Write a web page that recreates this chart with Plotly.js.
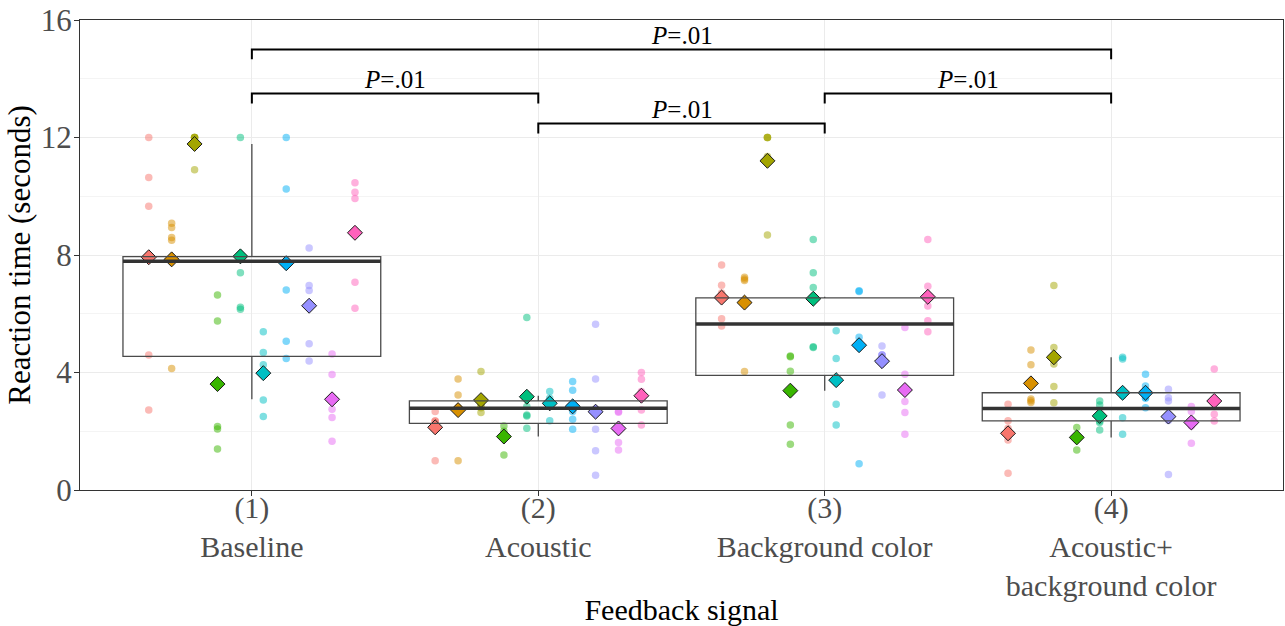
<!DOCTYPE html>
<html>
<head>
<meta charset="utf-8">
<script src="https://cdn.plot.ly/plotly-3.0.1.min.js"></script>
<style>html,body{margin:0;padding:0;background:#fff;}</style>
</head>
<body>
<div id="chart" style="width:1285px;height:626px;"></div>
<script>
// ---- DATA (reaction time in seconds, 5 trials per participant, 10 participants) ----
const conditions = [1, 2, 3, 4];
const conditionLabels = ["(1)<br>Baseline", "(2)<br>Acoustic", "(3)<br>Background color", "(4)<br>Acoustic+<br>background color"];
const participantColors = ["#F8766D", "#D89000", "#A3A500", "#39B600", "#00BF7D", "#00BFC4", "#00B0F6", "#9590FF", "#E76BF3", "#FF62BC"];

const rtBaseline = [
  [12.0, 10.64, 9.66, 4.6, 2.72],
  [9.08, 8.94, 8.6, 8.5, 4.14],
  [12.0, 12.0, 12.0, 12.0, 10.9],
  [6.64, 5.75, 2.16, 2.08, 1.4],
  [12.0, 8.0, 7.4, 6.22, 6.15],
  [5.39, 4.68, 4.26, 3.06, 2.5],
  [12.0, 10.25, 6.81, 5.06, 4.48],
  [8.24, 6.96, 6.79, 4.98, 4.39],
  [4.63, 3.93, 2.75, 2.47, 1.66],
  [10.46, 10.14, 9.92, 7.07, 6.19]
];
const rtAcoustic = [
  [2.67, 2.35, 2.35, 2.3, 1.0],
  [3.78, 3.23, 2.8, 2.79, 1.0],
  [4.03, 2.95, 2.88, 2.8, 2.64],
  [2.18, 2.0, 1.9, 1.83, 1.19],
  [5.87, 2.84, 2.55, 2.52, 2.1],
  [3.35, 3.12, 2.96, 2.96, 2.36],
  [3.69, 3.4, 2.67, 2.41, 2.07],
  [5.64, 3.78, 2.07, 1.34, 0.5],
  [2.67, 2.65, 2.18, 1.62, 1.36],
  [4.0, 3.77, 3.35, 2.72, 2.21]
];
const rtBackground = [
  [7.66, 6.97, 6.71, 5.83, 5.58],
  [7.24, 7.18, 7.13, 6.32, 4.03],
  [12.0, 12.0, 12.0, 11.35, 8.68],
  [4.56, 4.54, 4.04, 2.21, 1.56],
  [8.53, 7.4, 6.89, 4.88, 4.85],
  [5.42, 4.48, 3.67, 2.92, 2.21],
  [6.78, 6.76, 5.2, 5.02, 0.89],
  [4.9, 4.6, 4.6, 4.6, 3.23],
  [5.53, 3.94, 3.01, 2.64, 1.9],
  [8.53, 6.94, 6.26, 5.76, 5.39]
];
const rtAcousticBackground = [
  [2.92, 2.36, 2.1, 1.7, 0.57],
  [4.77, 4.26, 3.1, 3.04, 2.98],
  [6.96, 4.85, 4.29, 3.52, 2.97],
  [2.13, 1.85, 1.82, 1.79, 1.36],
  [3.03, 2.89, 2.35, 2.3, 2.04],
  [4.52, 4.46, 3.21, 2.46, 1.9],
  [3.94, 3.54, 3.15, 3.12, 2.8],
  [3.43, 3.14, 3.03, 2.37, 0.53],
  [2.84, 2.67, 2.22, 2.18, 1.59],
  [4.12, 3.08, 3.02, 2.58, 2.35]
];

// significance brackets
const bracketFrom = [1, 2, 3, 1];
const bracketTo = [2, 3, 4, 4];
const bracketHeight = [13.5, 12.48, 13.5, 15.0];
const bracketLabel = ["<i>P</i>=.01", "<i>P</i>=.01", "<i>P</i>=.01", "<i>P</i>=.01"];

// ---- BUILD ----
const allData = [rtBaseline, rtAcoustic, rtBackground, rtAcousticBackground];
const nP = participantColors.length;
const dodge = 0.8 / nP;
const mean = a => a.reduce((s, v) => s + v, 0) / a.length;
function quantile(arr, p) {
  const s = arr.slice().sort((a, b) => a - b);
  const h = (s.length - 1) * p, lo = Math.floor(h), hi = Math.ceil(h);
  return s[lo] + (h - lo) * (s[hi] - s[lo]);
}

const font = "Liberation Serif, Times New Roman, serif";
const traces = [];

// raw points per participant
for (let i = 0; i < nP; i++) {
  const xs = [], ys = [];
  conditions.forEach((c, k) => {
    allData[k][i].forEach(v => { xs.push(c + (i - (nP - 1) / 2) * dodge); ys.push(v); });
  });
  traces.push({
    type: "scatter", mode: "markers", x: xs, y: ys, hoverinfo: "y",
    marker: {size: 7.5, color: participantColors[i], opacity: 0.5, line: {width: 0}},
    showlegend: false
  });
}
// participant means (diamonds)
const meansByCond = allData.map(cond => cond.map(mean));
for (let i = 0; i < nP; i++) {
  traces.push({
    type: "scatter", mode: "markers",
    x: conditions.map(c => c + (i - (nP - 1) / 2) * dodge),
    y: meansByCond.map(m => m[i]),
    marker: {symbol: "diamond", size: 11.5, color: participantColors[i], line: {color: "#1a1a1a", width: 1}},
    showlegend: false, hoverinfo: "y"
  });
}
// boxplot of participant means (drawn on overlay axes so it sits on top)
const q1 = [], med = [], q3 = [], lf = [], uf = [];
meansByCond.forEach(m => {
  const a = quantile(m, 0.25), b = quantile(m, 0.5), c = quantile(m, 0.75), iqr = c - a;
  q1.push(a); med.push(b); q3.push(c);
  lf.push(Math.min(...m.filter(v => v >= a - 1.5 * iqr)));
  uf.push(Math.max(...m.filter(v => v <= c + 1.5 * iqr)));
});
traces.push({
  type: "box", x: conditions, q1: q1, median: med, q3: q3, lowerfence: lf, upperfence: uf,
  width: 0.9, whiskerwidth: 0, boxpoints: false,
  line: {color: "#4a4a4a", width: 1.3}, fillcolor: "rgba(0,0,0,0)",
  xaxis: "x2", yaxis: "y2", showlegend: false, hoverinfo: "skip"
});
const mx = [], my = [];
conditions.forEach((c, k) => { mx.push(c - 0.45, c + 0.45, null); my.push(med[k], med[k], null); });
traces.push({
  type: "scatter", mode: "lines", x: mx, y: my, line: {color: "#333333", width: 3.5},
  xaxis: "x2", yaxis: "y2", showlegend: false, hoverinfo: "skip"
});
// brackets
const tick = 0.34;
const annotations = [];
bracketFrom.forEach((a, k) => {
  const b = bracketTo[k], h = bracketHeight[k];
  traces.push({
    type: "scatter", mode: "lines", x: [a, a, b, b], y: [h - tick, h, h, h - tick],
    line: {color: "#000", width: 2}, showlegend: false, hoverinfo: "skip"
  });
  annotations.push({
    x: (a + b) / 2, y: h, xref: "x", yref: "y", text: bracketLabel[k], showarrow: false,
    yanchor: "bottom", yshift: -2, font: {family: font, size: 25, color: "#000"}
  });
});

const xr = [0.4, 4.6], yr = [0, 16];
const layout = {
  width: 1285, height: 626,
  margin: {l: 80, r: 2, t: 20, b: 136},
  paper_bgcolor: "#fff", plot_bgcolor: "#fff",
  font: {family: font},
  showlegend: false,
  xaxis: {
    range: xr, tickvals: conditions, ticktext: conditionLabels,
    showgrid: true, gridcolor: "#ebebeb", gridwidth: 1, zeroline: false,
    showline: true, mirror: true, linecolor: "#333", linewidth: 1,
    ticks: "outside", ticklen: 5, tickcolor: "#333", ticklabelstandoff: -14,
    tickfont: {family: font, size: 30, color: "#4d4d4d"},
    title: {text: "Feedback signal", font: {family: font, size: 30, color: "#000"}, standoff: 6},
    automargin: false
  },
  yaxis: {
    range: yr, tickvals: [0, 4, 8, 12, 16],
    showgrid: true, gridcolor: "#ebebeb", gridwidth: 1, zeroline: false,
    minor: {tickvals: [2, 6, 10, 14], showgrid: true, gridcolor: "#f4f4f4", gridwidth: 1, ticks: ""},
    showline: true, mirror: true, linecolor: "#333", linewidth: 1,
    ticks: "outside", ticklen: 5, tickcolor: "#333", ticklabelstandoff: -4,
    tickfont: {family: font, size: 31, color: "#4d4d4d"},
    title: {text: "Reaction time (seconds)", font: {family: font, size: 31, color: "#000"}, standoff: 0},
    automargin: false
  },
  xaxis2: {overlaying: "x", range: xr, visible: false, showgrid: false, zeroline: false},
  yaxis2: {overlaying: "y", range: yr, visible: false, showgrid: false, zeroline: false},
  annotations: annotations
};

Plotly.newPlot("chart", traces, layout, {displayModeBar: false, staticPlot: true});
</script>
</body>
</html>
